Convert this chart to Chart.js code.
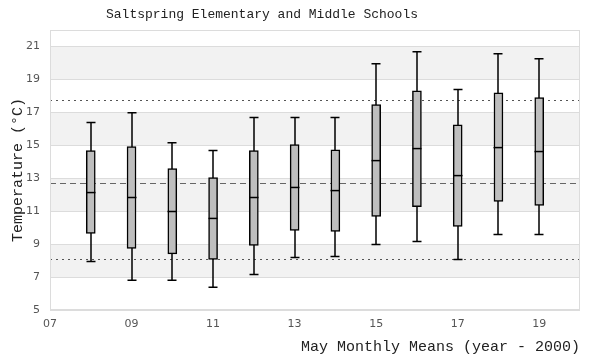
<!DOCTYPE html>
<html><head><meta charset="utf-8">
<script src="https://cdn.jsdelivr.net/npm/chart.js@4/dist/chart.umd.min.js"></script>
<style>html,body{margin:0;padding:0;background:#fff}</style>
</head><body>
<canvas id="c" width="600" height="360"></canvas>
<script>
const titleText = 'Saltspring Elementary and Middle Schools';
const xTitle = 'May Monthly Means (year - 2000)';
const yTitle = 'Temperature (°C)';
const years   = [8, 9, 10, 11, 12, 13, 14, 15, 16, 17, 18, 19];
const mins    = [7.95, 6.80, 6.80, 6.38, 7.16, 8.19, 8.25, 8.98, 9.16, 8.07, 9.59, 9.59];
const q1s     = [9.65, 8.74, 8.41, 8.07, 8.92, 9.83, 9.77, 10.68, 11.28, 10.07, 11.59, 11.35];
const medians = [12.13, 11.83, 10.98, 10.56, 11.83, 12.44, 12.25, 14.07, 14.80, 13.16, 14.86, 14.62];
const q3s     = [14.68, 14.92, 13.59, 13.04, 14.68, 15.04, 14.73, 17.47, 18.31, 16.25, 18.19, 17.89];
const maxs    = [16.38, 16.98, 15.16, 14.68, 16.68, 16.68, 16.68, 19.95, 20.68, 18.38, 20.56, 20.25];
const meanLine = 12.74;
const upperLine = 17.78;
const lowerLine = 8.07;
const xTicks = [7, 9, 11, 13, 15, 17, 19];
const yTicks = [5, 7, 9, 11, 13, 15, 17, 19, 21];
const bands = [[7, 9], [11, 13], [15, 17], [19, 21]];

const BOX_W = 9;

const boxPlugin = {
  id: 'boxExtras',
  beforeDraw(chart) {
    const {ctx, chartArea: a, scales: {y}} = chart;
    ctx.save();
    ctx.fillStyle = '#f2f2f2';
    bands.forEach(([lo, hi]) => {
      const t = y.getPixelForValue(hi), b = y.getPixelForValue(lo);
      ctx.fillRect(a.left, t, a.right - a.left, b - t);
    });
    ctx.restore();
  },
  beforeDatasetsDraw(chart) {
    const {ctx, chartArea: a, scales: {x, y}} = chart;
    ctx.save();
    // reference lines
    const refs = [[upperLine, [2, 4]], [meanLine, [6, 4]], [lowerLine, [2, 4]]];
    refs.forEach(([v, dash], i) => {
      const py = Math.round(y.getPixelForValue(v)) + 0.5;
      ctx.setLineDash(dash);
      ctx.strokeStyle = i === 1 ? '#666' : '#555';
      ctx.lineWidth = 1;
      ctx.beginPath(); ctx.moveTo(a.left, py); ctx.lineTo(a.right, py); ctx.stroke();
    });
    ctx.setLineDash([]);
    // whiskers
    ctx.strokeStyle = '#000';
    ctx.lineWidth = 1.5;
    years.forEach((yr, i) => {
      const px = Math.round(x.getPixelForValue(yr));
      const pmin = y.getPixelForValue(mins[i]), pmax = y.getPixelForValue(maxs[i]);
      ctx.beginPath();
      ctx.moveTo(px, pmin); ctx.lineTo(px, pmax);
      ctx.moveTo(px - BOX_W / 2, pmin); ctx.lineTo(px + BOX_W / 2, pmin);
      ctx.moveTo(px - BOX_W / 2, pmax); ctx.lineTo(px + BOX_W / 2, pmax);
      ctx.stroke();
    });
    ctx.restore();
  },
  afterDatasetsDraw(chart) {
    const {ctx, scales: {x, y}} = chart;
    ctx.save();
    ctx.strokeStyle = '#000';
    ctx.lineWidth = 1.5;
    years.forEach((yr, i) => {
      const px = Math.round(x.getPixelForValue(yr));
      const pm = y.getPixelForValue(medians[i]);
      ctx.beginPath(); ctx.moveTo(px - BOX_W / 2, pm); ctx.lineTo(px + BOX_W / 2, pm); ctx.stroke();
    });
    ctx.restore();
  },
  afterDraw(chart) {
    const {ctx, chartArea: a} = chart;
    ctx.save();
    ctx.strokeStyle = '#dcdcdc';
    ctx.lineWidth = 1;
    ctx.strokeRect(a.left + 0.5, a.top + 0.5, a.right - a.left - 1, a.bottom - a.top - 1);
    ctx.fillStyle = '#222';
    ctx.font = '13px "Liberation Mono", monospace';
    ctx.textAlign = 'center';
    ctx.textBaseline = 'middle';
    ctx.fillText(titleText, 262, 15);
    ctx.restore();
  }
};

new Chart(document.getElementById('c'), {
  type: 'bar',
  data: {
    datasets: [{
      data: years.map((yr, i) => ({x: yr, y: [q1s[i], q3s[i]]})),
      backgroundColor: '#bebebe',
      borderColor: '#000',
      borderWidth: 1.5,
      borderSkipped: false,
      barThickness: BOX_W
    }]
  },
  options: {
    responsive: false,
    animation: false,
    devicePixelRatio: 1,
    layout: {padding: {top: 30, right: 20, left: 0, bottom: 0}},
    plugins: {legend: {display: false}, tooltip: {enabled: false}, title: {display: false}},
    scales: {
      x: {
        type: 'linear', min: 7, max: 20, offset: false,
        afterFit(s) { s.height = 50; },
        afterBuildTicks(s) { s.ticks = xTicks.map(v => ({value: v})); },
        grid: {display: false, drawTicks: false},
        border: {display: false},
        ticks: {
          padding: 8, maxRotation: 0, autoSkip: false, color: '#555',
          font: {family: 'DejaVu Sans', size: 11},
          callback: v => String(v).padStart(2, '0')
        },
        title: {
          display: true, text: xTitle, align: 'end', color: '#222',
          font: {family: 'Liberation Mono', size: 15}, padding: {top: 4, bottom: 4}
        }
      },
      y: {
        min: 5, max: 22,
        afterFit(s) { s.width = 50; },
        afterBuildTicks(s) { s.ticks = yTicks.map(v => ({value: v})); },
        grid: {color: '#dcdcdc', drawTicks: false},
        border: {display: false},
        ticks: {
          padding: 10, color: '#555',
          font: {family: 'DejaVu Sans', size: 11}
        },
        title: {
          display: true, text: yTitle, color: '#222',
          font: {family: 'Liberation Mono', size: 15}, padding: {top: 9, bottom: 4}
        }
      }
    }
  },
  plugins: [boxPlugin]
});
</script>
</body></html>
